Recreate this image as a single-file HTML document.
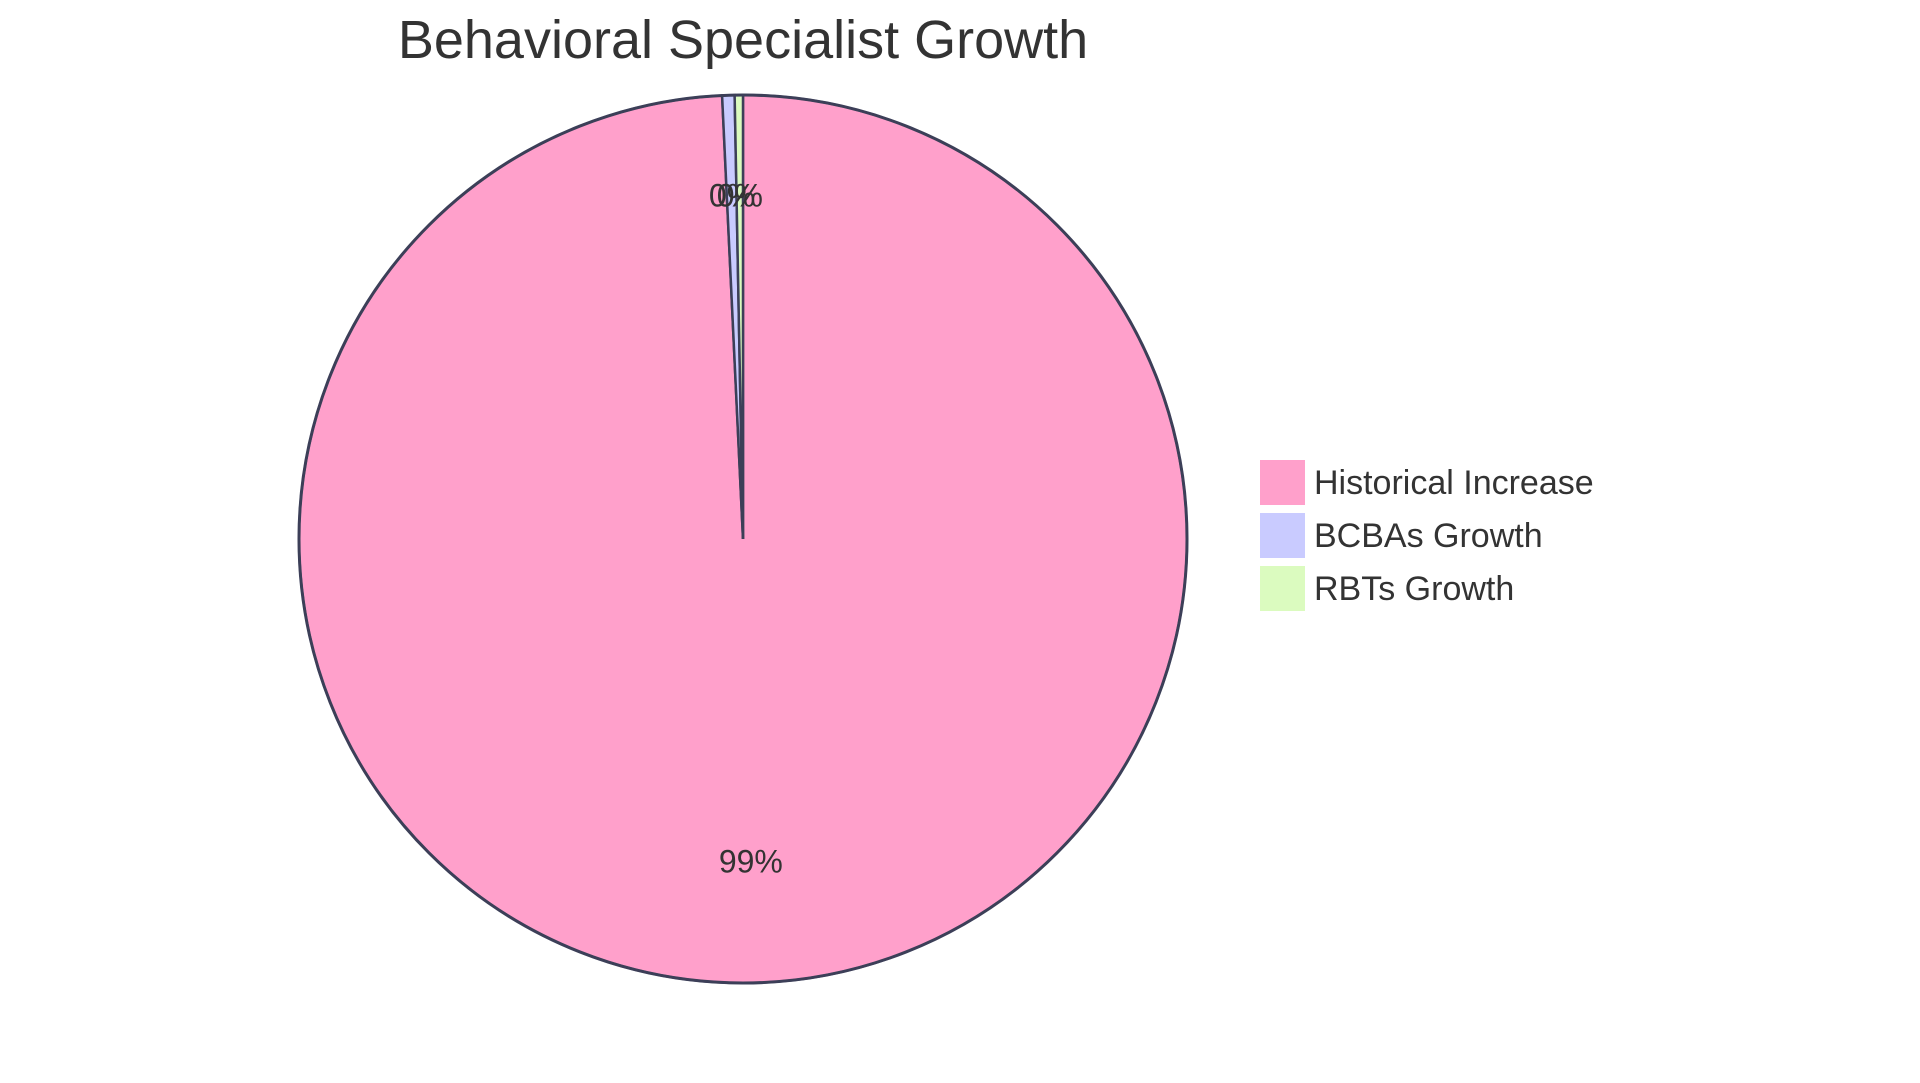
<!DOCTYPE html>
<html><head><meta charset="utf-8"><style>
html,body{margin:0;padding:0;background:#fff;}
svg{display:block;font-family:"Liberation Sans",sans-serif;}
</style></head><body>
<svg id="chart" width="1920" height="1083" viewBox="0 0 1920 1083">
<text x="743" y="58" text-anchor="middle" font-size="54" fill="#333">Behavioral Specialist Growth</text>
<g id="slices"></g>
<g id="labels"></g>
<g id="legend"></g>
</svg>
<script>
const categories = ["Historical Increase", "BCBAs Growth", "RBTs Growth"];
const values = [99.25, 0.45, 0.30];
const colors = ["#FFA0CB", "#C9CBFF", "#DBFBBF"];
const NS = "http://www.w3.org/2000/svg";
const cx = 743, cy = 539, r = 444;
const total = values.reduce((a, b) => a + b, 0);
const slices = document.getElementById('slices');
const labels = document.getElementById('labels');
const legend = document.getElementById('legend');
let a0 = 0;
function pt(a, rr) { return [cx + rr * Math.sin(a), cy - rr * Math.cos(a)]; }
values.forEach((v, i) => {
  const a1 = a0 + v / total * 2 * Math.PI;
  const p0 = pt(a0, r), p1 = pt(a1, r);
  const large = (a1 - a0) > Math.PI ? 1 : 0;
  const path = document.createElementNS(NS, 'path');
  path.setAttribute('d', `M${cx},${cy} L${p0[0]},${p0[1]} A${r},${r} 0 ${large} 1 ${p1[0]},${p1[1]} Z`);
  path.setAttribute('fill', colors[i]);
  path.setAttribute('stroke', '#3c3f58');
  path.setAttribute('stroke-width', '2.5');
  
  
  slices.appendChild(path);
  const mid = (a0 + a1) / 2;
  const lp = pt(mid, r * 0.75);
  const t = document.createElementNS(NS, 'text');
  t.setAttribute('x', lp[0]);
  t.setAttribute('y', lp[1] - 8);
  t.setAttribute('text-anchor', 'middle');
  t.setAttribute('dominant-baseline', 'middle');
  t.setAttribute('font-size', '32');
  t.setAttribute('fill', '#333');
  t.textContent = Math.round(v / total * 100) + '%';
  
  
  labels.appendChild(t);
  a0 = a1;
});
const outline = document.createElementNS(NS, 'circle');
outline.setAttribute('cx', cx); outline.setAttribute('cy', cy); outline.setAttribute('r', r);
outline.setAttribute('fill', 'none'); outline.setAttribute('stroke', '#3c3f58'); outline.setAttribute('stroke-width', '3');


slices.appendChild(outline);
categories.forEach((c, i) => {
  const g = document.createElementNS(NS, 'g');
  
  
  const rect = document.createElementNS(NS, 'rect');
  rect.setAttribute('x', 1260); rect.setAttribute('y', 460 + i * 53);
  rect.setAttribute('width', 45); rect.setAttribute('height', 45);
  rect.setAttribute('fill', colors[i]);
  
  
  const t = document.createElementNS(NS, 'text');
  t.setAttribute('x', 1314); t.setAttribute('y', 494 + i * 53);
  t.setAttribute('font-size', '34'); t.setAttribute('fill', '#333');
  t.textContent = c;
  
  
  g.appendChild(rect); g.appendChild(t);
  legend.appendChild(g);
});
</script>
</body></html>
